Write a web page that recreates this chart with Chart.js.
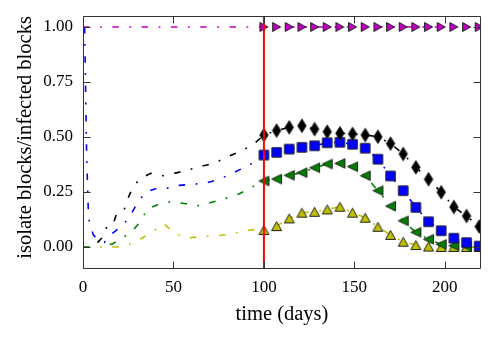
<!DOCTYPE html>
<html>
<head>
<meta charset="utf-8">
<script src="https://cdn.jsdelivr.net/npm/chart.js@4"></script>
<style>
  html, body { margin: 0; padding: 0; background: #fff; }
</style>
</head>
<body>
<canvas id="chart" width="498" height="338"></canvas>
<script>
// axis ticks
const xTicks = [0, 50, 100, 150, 200];
const xTickLabels = ['0', '50', '100', '150', '200'];
const yTicks = [0, 0.25, 0.5, 0.75, 1.0];
const yTickLabels = ['0.00', '0.25', '0.50', '0.75', '1.00'];

// day where isolation starts (red line)
const isolateDay = 100;

// before isolation: plain dash-dot curves
const magentaEarlyDays = [0, 93];
const magentaEarly = [1.0, 1.0];
const blueEarlyDays = [0.9, 2, 2.9, 3.5, 5.7, 8.5, 11.8, 16.2, 21.9, 26.3, 30, 34.8, 42, 47.8, 53.2, 60, 67.8, 75.3, 82.5, 90, 96.9];
const blueEarly = [1.0, 0.42, 0.176, 0.112, 0.055, 0.03, 0.021, 0.062, 0.097, 0.145, 0.2, 0.251, 0.27, 0.267, 0.28, 0.285, 0.29, 0.308, 0.335, 0.365, 0.395];
const blackEarlyDays = [8, 10.3, 12.2, 16.4, 18.6, 22.7, 25.6, 27.4, 31.1, 37.4, 44.4, 51.6, 58.2, 64.6, 72, 79.4, 86.4, 93.8];
const blackEarly = [0.02, 0.04, 0.085, 0.097, 0.153, 0.168, 0.236, 0.267, 0.309, 0.335, 0.324, 0.337, 0.35, 0.365, 0.38, 0.408, 0.433, 0.464];
const greenEarlyDays = [0, 4, 7.9, 15.8, 21.7, 27.3, 32, 35.5, 41.6, 48.7, 56, 63.7, 71.1, 79, 86.2, 93.2];
const greenEarly = [0, 0, 0.027, 0.012, 0.04, 0.073, 0.118, 0.173, 0.194, 0.206, 0.198, 0.188, 0.203, 0.221, 0.241, 0.271];
const yellowEarlyDays = [0, 5, 11.2, 19, 26.5, 33, 39.2, 44.8, 51, 58.6, 66.1, 73.9, 81.8, 89.5, 97.4];
const yellowEarly = [0, 0, 0, 0, 0.014, 0.042, 0.074, 0.105, 0.059, 0.042, 0.047, 0.051, 0.059, 0.073, 0.082];

// after isolation: marked points every 7 days
const markDays = [100, 107, 114, 121, 128, 135, 142, 149, 156, 163, 170, 177, 184, 191, 198, 205, 212, 219];
const magentaMarks = [1, 1, 1, 1, 1, 1, 1, 1, 1, 1, 1, 1, 1, 1, 1, 1, 1, 1];
const blackMarks = [0.509, 0.529, 0.544, 0.551, 0.536, 0.524, 0.517, 0.514, 0.509, 0.501, 0.470, 0.423, 0.362, 0.308, 0.249, 0.182, 0.141, 0.093];
const blueMarks = [0.418, 0.430, 0.445, 0.453, 0.460, 0.474, 0.476, 0.467, 0.449, 0.399, 0.323, 0.256, 0.180, 0.115, 0.074, 0.040, 0.020, 0.004];
const greenMarks = [0.300, 0.309, 0.326, 0.338, 0.360, 0.377, 0.380, 0.365, 0.324, 0.256, 0.186, 0.119, 0.067, 0.035, 0.012, 0.006, 0.003, 0.002];
const yellowMarks = [0.077, 0.095, 0.130, 0.156, 0.160, 0.171, 0.183, 0.156, 0.133, 0.092, 0.055, 0.024, 0.009, 0.002, 0, 0, 0, 0];

const makeMarker = (shape, fill, w, h) => {
    const c = document.createElement('canvas');
    c.width = Math.ceil(w + 3);
    c.height = Math.ceil(h + 3);
    const g = c.getContext('2d');
    const cx = c.width / 2, cy = c.height / 2, hw = w / 2, hh = h / 2;
    g.beginPath();
    if (shape === 'diamond') {
        g.moveTo(cx, cy - hh); g.lineTo(cx + hw, cy); g.lineTo(cx, cy + hh); g.lineTo(cx - hw, cy);
    } else if (shape === 'square') {
        g.rect(cx - hw, cy - hh, w, h);
    } else if (shape === 'left') {
        g.moveTo(cx - hw, cy); g.lineTo(cx + hw, cy - hh); g.lineTo(cx + hw, cy + hh);
    } else if (shape === 'right') {
        g.moveTo(cx + hw, cy); g.lineTo(cx - hw, cy - hh); g.lineTo(cx - hw, cy + hh);
    } else {
        g.moveTo(cx, cy - hh); g.lineTo(cx + hw, cy + hh); g.lineTo(cx - hw, cy + hh);
    }
    g.closePath();
    g.fillStyle = fill;
    g.fill();
    g.lineWidth = 1;
    g.strokeStyle = '#222';
    g.stroke();
    return c;
};

const toPoints = (days, vals) => days.map((d, i) => ({ x: d, y: vals[i] }));

const series = (color, marker, earlyDays, early, marks) => ({
    data: toPoints(earlyDays, early).concat(toPoints(markDays, marks)),
    borderColor: color,
    borderWidth: 1.6,
    borderDash: [6.5, 10.5, 1.8, 10.5],
    pointStyle: marker,
    pointRadius: (ctx) => (ctx.raw && ctx.raw.x >= isolateDay ? 5 : 0),
    tension: 0,
    fill: false,
    clip: 0,
    order: 1
});

const frame = {
    id: 'frame',
    afterDatasetsDraw(chart) {
        const { ctx, chartArea: a, scales: { x, y } } = chart;
        const L = Math.round(a.left) + 0.5, R = Math.round(a.right) - 0.5;
        const T = Math.round(a.top) + 0.5, B = Math.round(a.bottom) - 0.5;
        const len = 7;
        ctx.save();
        ctx.strokeStyle = '#333';
        ctx.lineWidth = 1;
        ctx.beginPath();
        ctx.rect(L, T, R - L, B - T);
        x.ticks.forEach(t => {
            const px = Math.round(x.getPixelForValue(t.value)) + 0.5;
            ctx.moveTo(px, B); ctx.lineTo(px, B - len);
            ctx.moveTo(px, T); ctx.lineTo(px, T + len);
        });
        y.ticks.forEach(t => {
            const py = Math.round(y.getPixelForValue(t.value)) + 0.5;
            ctx.moveTo(L, py); ctx.lineTo(L + len, py);
            ctx.moveTo(R, py); ctx.lineTo(R - len, py);
        });
        ctx.stroke();
        ctx.restore();
    }
};

const tickFont = { family: '"Liberation Serif", serif', size: 17 };
const titleFont = { family: '"Liberation Serif", serif', size: 20.5 };

new Chart(document.getElementById('chart'), {
    type: 'line',
    data: {
        datasets: [
            {
                data: [{ x: isolateDay, y: -0.1 }, { x: isolateDay, y: 1.05 }],
                borderColor: '#ff0000',
                borderWidth: 2,
                pointRadius: 0,
                clip: 0,
                order: 0
            },
            series('#bf00bf', makeMarker('right', '#bf00bf', 8, 9), magentaEarlyDays, magentaEarly, magentaMarks),
            series('#000000', makeMarker('diamond', '#000000', 8.5, 13.5), blackEarlyDays, blackEarly, blackMarks),
            series('#0000ff', makeMarker('square', '#0000ff', 9.5, 9.5), blueEarlyDays, blueEarly, blueMarks),
            series('#008000', makeMarker('left', '#008000', 10, 9.5), greenEarlyDays, greenEarly, greenMarks),
            series('#bfbf00', makeMarker('up', '#bfbf00', 10, 9), yellowEarlyDays, yellowEarly, yellowMarks)
        ]
    },
    options: {
        responsive: false,
        animation: false,
        events: [],
        layout: { padding: { top: 16, right: 17, left: 0, bottom: 0 } },
        plugins: { legend: { display: false }, tooltip: { enabled: false } },
        scales: {
            x: {
                type: 'linear',
                min: 0,
                max: 220,
                grid: { display: false, drawTicks: false },
                border: { display: false },
                afterBuildTicks: (scale) => { scale.ticks = xTicks.map(v => ({ value: v })); },
                afterFit: (scale) => {
                    scale.height = 69;
                    scale.paddingLeft = 0;
                    scale.paddingRight = 0;
                },
                ticks: {
                    padding: 8,
                    color: '#000',
                    font: tickFont,
                    maxRotation: 0,
                    callback: (v, i) => xTickLabels[i]
                },
                title: {
                    display: true,
                    text: 'time (days)',
                    color: '#000',
                    font: titleFont,
                    padding: { top: 0, bottom: 11 }
                }
            },
            y: {
                type: 'linear',
                min: -0.1,
                max: 1.05,
                grid: { display: false, drawTicks: false },
                border: { display: false },
                afterBuildTicks: (scale) => { scale.ticks = yTicks.map(v => ({ value: v })); },
                afterFit: (scale) => {
                    scale.width = 83;
                    scale.paddingTop = 0;
                    scale.paddingBottom = 0;
                },
                ticks: {
                    padding: 10,
                    color: '#000',
                    font: tickFont,
                    callback: (v, i) => yTickLabels[i]
                },
                title: {
                    display: true,
                    text: '  isolate blocks/infected blocks',
                    color: '#000',
                    font: titleFont,
                    padding: { top: 13, bottom: 0 }
                }
            }
        }
    },
    plugins: [frame]
});
</script>
</body>
</html>
